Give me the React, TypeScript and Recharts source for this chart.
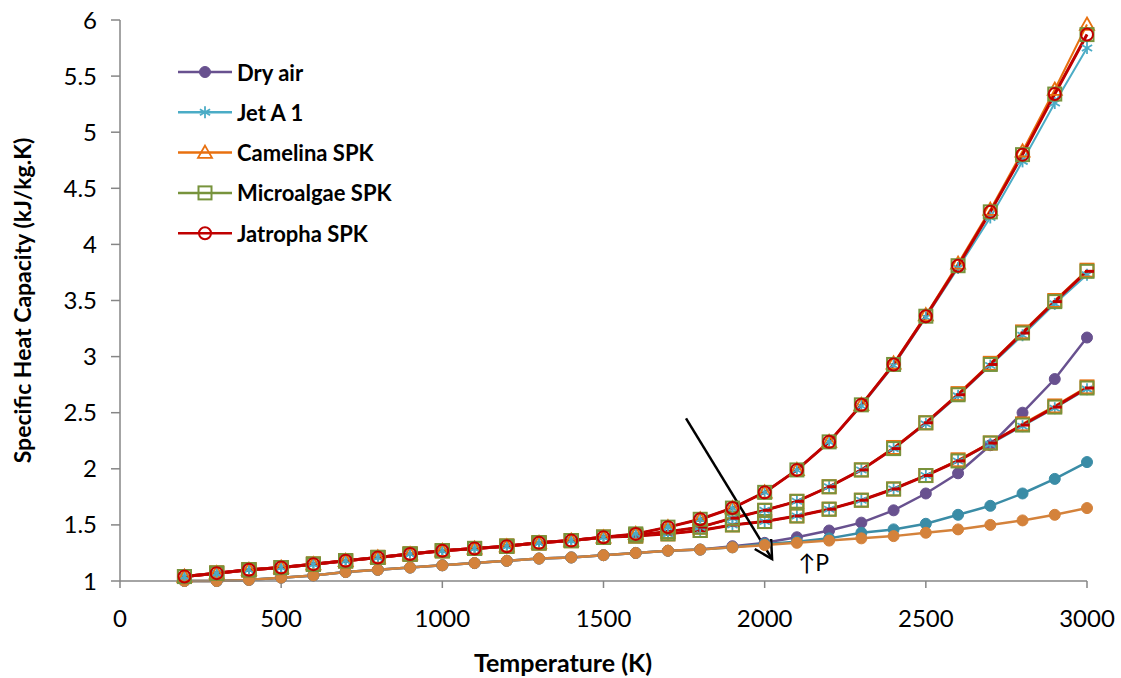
import { LineChart, Line, XAxis, YAxis, ReferenceLine } from "recharts";

// Temperature (K)
const TEMPS = [200, 300, 400, 500, 600, 700, 800, 900, 1000, 1100, 1200, 1300, 1400, 1500, 1600, 1700, 1800, 1900, 2000, 2100, 2200, 2300, 2400, 2500, 2600, 2700, 2800, 2900, 3000];

// Dry air at three pressures
const dryAirLow = [1.0, 1.0, 1.01, 1.03, 1.05, 1.08, 1.1, 1.12, 1.14, 1.16, 1.18, 1.2, 1.21, 1.23, 1.25, 1.27, 1.28, 1.31, 1.34, 1.39, 1.45, 1.52, 1.63, 1.78, 1.96, 2.21, 2.5, 2.8, 3.17];
const dryAirMid = [1.0, 1.0, 1.01, 1.03, 1.05, 1.08, 1.1, 1.12, 1.14, 1.16, 1.18, 1.2, 1.21, 1.23, 1.25, 1.27, 1.28, 1.3, 1.33, 1.35, 1.38, 1.43, 1.46, 1.51, 1.59, 1.67, 1.78, 1.91, 2.06];
const dryAirHigh = [1.0, 1.0, 1.01, 1.03, 1.05, 1.08, 1.1, 1.12, 1.14, 1.16, 1.18, 1.2, 1.21, 1.23, 1.25, 1.27, 1.28, 1.3, 1.32, 1.34, 1.36, 1.38, 1.4, 1.43, 1.46, 1.5, 1.54, 1.59, 1.65];

// Fuels, low pressure
const jetLow = [1.04, 1.07, 1.1, 1.12, 1.15, 1.18, 1.21, 1.24, 1.27, 1.29, 1.31, 1.34, 1.36, 1.39, 1.42, 1.48, 1.55, 1.65, 1.79, 1.99, 2.24, 2.56, 2.92, 3.35, 3.79, 4.24, 4.74, 5.26, 5.75];
const camelinaLow = [1.04, 1.07, 1.1, 1.12, 1.15, 1.18, 1.21, 1.24, 1.27, 1.29, 1.31, 1.34, 1.36, 1.39, 1.42, 1.48, 1.55, 1.65, 1.79, 1.99, 2.24, 2.57, 2.94, 3.37, 3.83, 4.31, 4.83, 5.38, 5.96];
const microalgaeLow = [1.04, 1.07, 1.1, 1.12, 1.15, 1.18, 1.21, 1.24, 1.27, 1.29, 1.31, 1.34, 1.36, 1.39, 1.42, 1.48, 1.55, 1.65, 1.79, 1.99, 2.24, 2.57, 2.93, 3.36, 3.81, 4.29, 4.8, 5.34, 5.87];
const jatrophaLow = [1.04, 1.07, 1.1, 1.12, 1.15, 1.18, 1.21, 1.24, 1.27, 1.29, 1.31, 1.34, 1.36, 1.39, 1.42, 1.48, 1.55, 1.65, 1.79, 1.99, 2.24, 2.57, 2.93, 3.36, 3.81, 4.29, 4.8, 5.34, 5.87];

// Fuels, medium pressure
const jetMid = [1.04, 1.07, 1.1, 1.12, 1.15, 1.18, 1.21, 1.24, 1.27, 1.29, 1.31, 1.34, 1.36, 1.39, 1.41, 1.44, 1.48, 1.56, 1.63, 1.71, 1.84, 1.99, 2.18, 2.4, 2.65, 2.92, 3.19, 3.47, 3.73];
const camelinaMid = [1.04, 1.07, 1.1, 1.12, 1.15, 1.18, 1.21, 1.24, 1.27, 1.29, 1.31, 1.34, 1.36, 1.39, 1.41, 1.44, 1.48, 1.56, 1.63, 1.71, 1.84, 1.99, 2.19, 2.41, 2.67, 2.94, 3.22, 3.5, 3.77];
const microalgaeMid = [1.04, 1.07, 1.1, 1.12, 1.15, 1.18, 1.21, 1.24, 1.27, 1.29, 1.31, 1.34, 1.36, 1.39, 1.41, 1.44, 1.48, 1.56, 1.63, 1.71, 1.84, 1.99, 2.18, 2.41, 2.66, 2.93, 3.21, 3.49, 3.76];
const jatrophaMid = [1.04, 1.07, 1.1, 1.12, 1.15, 1.18, 1.21, 1.24, 1.27, 1.29, 1.31, 1.34, 1.36, 1.39, 1.41, 1.44, 1.48, 1.56, 1.63, 1.71, 1.84, 1.99, 2.18, 2.41, 2.66, 2.93, 3.21, 3.49, 3.76];

// Fuels, high pressure
const jetHigh = [1.04, 1.07, 1.1, 1.12, 1.15, 1.18, 1.21, 1.24, 1.27, 1.29, 1.31, 1.34, 1.36, 1.39, 1.4, 1.42, 1.45, 1.5, 1.53, 1.58, 1.64, 1.72, 1.82, 1.94, 2.07, 2.22, 2.38, 2.54, 2.71];
const camelinaHigh = [1.04, 1.07, 1.1, 1.12, 1.15, 1.18, 1.21, 1.24, 1.27, 1.29, 1.31, 1.34, 1.36, 1.39, 1.4, 1.42, 1.45, 1.5, 1.53, 1.58, 1.64, 1.72, 1.82, 1.94, 2.08, 2.23, 2.4, 2.56, 2.73];
const microalgaeHigh = [1.04, 1.07, 1.1, 1.12, 1.15, 1.18, 1.21, 1.24, 1.27, 1.29, 1.31, 1.34, 1.36, 1.39, 1.4, 1.42, 1.45, 1.5, 1.53, 1.58, 1.64, 1.72, 1.82, 1.94, 2.07, 2.23, 2.39, 2.55, 2.72];
const jatrophaHigh = [1.04, 1.07, 1.1, 1.12, 1.15, 1.18, 1.21, 1.24, 1.27, 1.29, 1.31, 1.34, 1.36, 1.39, 1.4, 1.42, 1.45, 1.5, 1.53, 1.58, 1.64, 1.72, 1.82, 1.94, 2.07, 2.23, 2.39, 2.55, 2.72];

const X_TICKS = [0, 500, 1000, 1500, 2000, 2500, 3000];
const Y_TICKS = [1, 1.5, 2, 2.5, 3, 3.5, 4, 4.5, 5, 5.5, 6];

const PURPLE = "#68518f";
const TEAL = "#3a8ca6";
const ORANGE_AIR = "#d4823b";
const JET = "#4bacc6";
const CAMELINA = "#e8700f";
const MICROALGAE = "#77933c";
const JATROPHA = "#c00000";
const FONT = "Lato, 'Open Sans', sans-serif";

const data = TEMPS.map((t, i) => ({
  T: t,
  dryAirLow: dryAirLow[i],
  dryAirMid: dryAirMid[i],
  dryAirHigh: dryAirHigh[i],
  jetLow: jetLow[i],
  camelinaLow: camelinaLow[i],
  microalgaeLow: microalgaeLow[i],
  jatrophaLow: jatrophaLow[i],
  jetMid: jetMid[i],
  camelinaMid: camelinaMid[i],
  microalgaeMid: microalgaeMid[i],
  jatrophaMid: jatrophaMid[i],
  jetHigh: jetHigh[i],
  camelinaHigh: camelinaHigh[i],
  microalgaeHigh: microalgaeHigh[i],
  jatrophaHigh: jatrophaHigh[i],
}));

// marker shapes
function Dot({ cx, cy, color }: any) {
  return <circle cx={cx} cy={cy} r={5.5} fill={color} stroke={color} strokeWidth={1} />;
}
function Asterisk({ cx, cy, color }: any) {
  const s = 6;
  return (
    <g stroke={color} strokeWidth={1.8}>
      <line x1={cx} y1={cy - s} x2={cx} y2={cy + s} />
      <line x1={cx - s * 0.85} y1={cy - s * 0.5} x2={cx + s * 0.85} y2={cy + s * 0.5} />
      <line x1={cx - s * 0.85} y1={cy + s * 0.5} x2={cx + s * 0.85} y2={cy - s * 0.5} />
    </g>
  );
}
function Triangle({ cx, cy, color }: any) {
  const s = 7;
  return <polygon points={`${cx},${cy - s} ${cx + s},${cy + s * 0.75} ${cx - s},${cy + s * 0.75}`} fill="none" stroke={color} strokeWidth={1.8} />;
}
function Square({ cx, cy, color }: any) {
  const s = 6.5;
  return <rect x={cx - s} y={cy - s} width={s * 2} height={s * 2} fill="none" stroke={color} strokeWidth={2} />;
}
function Ring({ cx, cy, color }: any) {
  return <circle cx={cx} cy={cy} r={6} fill="none" stroke={color} strokeWidth={2} />;
}
function Dash({ cx, cy, color }: any) {
  return <line x1={cx - 2} y1={cy} x2={cx + 7} y2={cy} stroke={color} strokeWidth={3} />;
}

const MARKERS: Record<string, any> = { dot: Dot, asterisk: Asterisk, triangle: Triangle, square: Square, ring: Ring, dash: Dash };

const SERIES = [
  { key: "dryAirLow", color: PURPLE, marker: "dot", width: 2.5 },
  { key: "dryAirMid", color: TEAL, marker: "dot", width: 2.5 },
  { key: "dryAirHigh", color: ORANGE_AIR, marker: "dot", width: 2.5 },
  { key: "jetHigh", color: JET, marker: "asterisk", width: 2 },
  { key: "camelinaHigh", color: CAMELINA, marker: "square", width: 2 },
  { key: "microalgaeHigh", color: MICROALGAE, marker: "square", width: 2 },
  { key: "jatrophaHigh", color: JATROPHA, marker: "dash", width: 3 },
  { key: "jetMid", color: JET, marker: "asterisk", width: 2 },
  { key: "camelinaMid", color: CAMELINA, marker: "square", width: 2 },
  { key: "microalgaeMid", color: MICROALGAE, marker: "square", width: 2 },
  { key: "jatrophaMid", color: JATROPHA, marker: "dash", width: 3 },
  { key: "jetLow", color: JET, marker: "asterisk", width: 2 },
  { key: "camelinaLow", color: CAMELINA, marker: "triangle", width: 2 },
  { key: "microalgaeLow", color: MICROALGAE, marker: "square", width: 2 },
  { key: "jatrophaLow", color: JATROPHA, marker: "ring", width: 3 },
];

const LEGEND_ITEMS = [
  { name: "Dry air", color: PURPLE, marker: "dot" },
  { name: "Jet A 1", color: JET, marker: "asterisk" },
  { name: "Camelina SPK", color: CAMELINA, marker: "triangle" },
  { name: "Microalgae SPK", color: MICROALGAE, marker: "square" },
  { name: "Jatropha SPK", color: JATROPHA, marker: "ring" },
];

function ChartLegend() {
  return (
    <svg width={260} height={200} style={{ position: "absolute", left: 175, top: 60 }}>
      {LEGEND_ITEMS.map((item, i) => {
        const y = 12 + i * 40.3;
        const M = MARKERS[item.marker];
        return (
          <g key={item.name}>
            <line x1={3} y1={y} x2={57} y2={y} stroke={item.color} strokeWidth={2.5} />
            <M cx={30} cy={y} color={item.color} />
            <text x={62} y={y} dominantBaseline="central" fontFamily={FONT} fontWeight={700} fontSize={22} fill="#000">
              {item.name}
            </text>
          </g>
        );
      })}
    </svg>
  );
}

// arrow with the "↑P" note
function PressureArrow(props: any) {
  const { x1, y1, x2, y2 } = props;
  const ang = Math.atan2(y1 - y2, x1 - x2);
  const len = 20;
  const spread = 0.5;
  const a1x = x2 + len * Math.cos(ang + spread);
  const a1y = y2 + len * Math.sin(ang + spread);
  const a2x = x2 + len * Math.cos(ang - spread);
  const a2y = y2 + len * Math.sin(ang - spread);
  return (
    <g>
      <line x1={x1} y1={y1} x2={x2} y2={y2} stroke="#000" strokeWidth={2.5} />
      <polyline points={`${a1x},${a1y} ${x2},${y2} ${a2x},${a2y}`} fill="none" stroke="#000" strokeWidth={2.5} />
      <text x={x2 + 26} y={y2 + 12} fontFamily={FONT} fontSize={23} fill="#000">↑P</text>
    </g>
  );
}

export default function App() {
  return (
    <div style={{ position: "absolute", left: 0, top: 0, width: 1121, height: 678, background: "#fff" }}>
      <LineChart width={1121} height={678} data={data} margin={{ top: 20, right: 34, left: 0, bottom: 0 }}>
        <XAxis
          type="number"
          dataKey="T"
          domain={[0, 3000]}
          ticks={X_TICKS}
          height={97}
          tickSize={7}
          tickMargin={22}
          stroke="#868686"
          strokeWidth={1.5}
          tick={{ fill: "#000", fontSize: 24, fontFamily: FONT }}
          label={{
            content: ({ viewBox }: any) => (
              <text x={563} y={viewBox.y + viewBox.height - 16} textAnchor="middle" dominantBaseline="central" fill="#000" fontSize={25} fontWeight={700} fontFamily={FONT}>
                Temperature (K)
              </text>
            ),
          }}
        />
        <YAxis
          type="number"
          domain={[1, 6]}
          ticks={Y_TICKS}
          width={120}
          tickSize={9}
          tickMargin={14}
          stroke="#868686"
          strokeWidth={1.5}
          tick={{ fill: "#000", fontSize: 24, fontFamily: FONT }}
          label={{
            content: ({ viewBox }: any) => {
              const cx = 22;
              const cy = viewBox.y + viewBox.height / 2;
              return (
                <text x={cx} y={cy} transform={`rotate(-90, ${cx}, ${cy})`} textAnchor="middle" dominantBaseline="central" fill="#000" fontSize={23} fontWeight={700} fontFamily={FONT}>
                  Specific Heat Capacity (kJ/kg.K)
                </text>
              );
            },
          }}
        />
        {SERIES.map((s) => {
          const M = MARKERS[s.marker];
          return (
            <Line
              key={s.key}
              type="linear"
              dataKey={s.key}
              stroke={s.color}
              strokeWidth={s.width}
              isAnimationActive={false}
              activeDot={false}
              dot={(p: any) => <M key={`${s.key}-${p.index}`} cx={p.cx} cy={p.cy} color={s.color} />}
            />
          );
        })}
        <ReferenceLine
          segment={[{ x: 1756, y: 2.45 }, { x: 2023, y: 1.196 }]}
          ifOverflow="visible"
          shape={(p: any) => <PressureArrow {...p} />}
        />
      </LineChart>
      <ChartLegend />
    </div>
  );
}
